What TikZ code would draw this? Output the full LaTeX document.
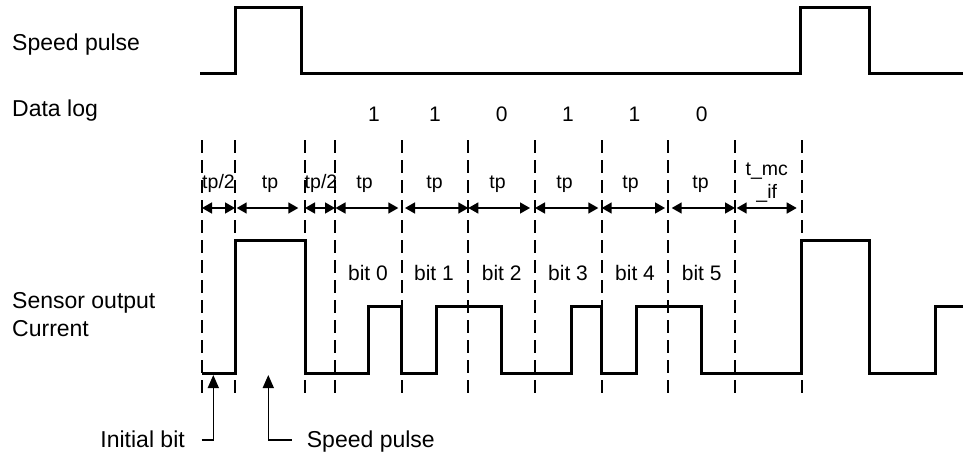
\documentclass[tikz,border=0pt]{standalone}
\usepackage{fontspec}
\setmainfont{Liberation Sans}
\usetikzlibrary{arrows.meta}
\begin{document}
\begin{tikzpicture}[x=1pt,y=-1pt,
  sidelbl/.style={font=\fontsize{23}{28}\selectfont, inner sep=0pt, align=left},
  bitlbl/.style={font=\fontsize{21}{24}\selectfont, inner sep=0pt},
  tplbl/.style={font=\fontsize{19.5}{23}\selectfont, inner sep=0pt, align=center},
  signal/.style={line width=3pt, line join=miter},
  guide/.style={line width=2.3pt, dash pattern=on 13pt off 7pt},
  span/.style={line width=1.5pt, {Triangle[length=10pt,width=11pt]}-{Triangle[length=10pt,width=11pt]}},
  ann/.style={line width=1.5pt, -{Triangle[length=13pt,width=11pt]}}]
\useasboundingbox (0,0) rectangle (963,456);

% left labels
\node[sidelbl, anchor=base west] (lsp) at (12,50) {Speed pulse};
\node[sidelbl, anchor=base west] (ldl) at (12,116) {Data log};
\node[sidelbl, anchor=base west] (lso) at (12,336) {Sensor output\\Current};

% speed pulse signal
\draw[signal] (200,73) -- (235,73) -- (235,7.5) -- (301.7,7.5) -- (301.7,73)
  -- (800.7,73) -- (800.7,7.5) -- (869,7.5) -- (869,73) -- (964,73);

% dashed guide lines
\foreach \n/\x in {a/202,b/235,c/305,d/335,e/401.7,f/468.3,g/535,h/601.7,i/668.3,j/735,k/801.7}{
  \coordinate (t\n) at (\x,140);
  \coordinate (b\n) at (\x,395);
  \draw[guide] (t\n) -- (b\n);
}

% data log digits
\foreach \x/\d in {374/1,435/1,501.7/0,568/1,634.5/1,701.7/0}{
  \node[bitlbl, anchor=base] at (\x,121.7) {\d};
}

% span arrows
\foreach \l/\r in {202/235,236.7/298.3,305/335,335.5/398.3,405/468.3,468.3/530,535/598.3,601.7/665,671.7/735,736.7/796.7}{
  \coordinate (sl) at (\l,208);
  \coordinate (sr) at (\r,208);
  \draw[span] (sl) -- (sr);
}

% tp labels
\node[tplbl, anchor=base] at (218.5,188) {tp/2};
\node[tplbl, anchor=base] at (270,188) {tp};
\node[tplbl, anchor=base] at (321,188) {tp/2};
\node[tplbl, anchor=base] at (364.5,188) {tp};
\node[tplbl, anchor=base] at (434.5,188) {tp};
\node[tplbl, anchor=base] at (497.5,188) {tp};
\node[tplbl, anchor=base] at (564.5,188) {tp};
\node[tplbl, anchor=base] at (630.5,188) {tp};
\node[tplbl, anchor=base] at (700.5,188) {tp};
\node[tplbl, anchor=base] (tmc) at (766.7,198) {t\_mc\\\_if};

% bit labels
\foreach \x/\b in {368/0,434/1,501.7/2,568/3,635/4,701.7/5}{
  \node[bitlbl, anchor=base] at (\x,280) {bit \b};
}

% sensor output signal
\draw[signal] (202,373) -- (235,373) -- (235,240) -- (305,240) -- (305,373)
  -- (368.3,373) -- (368.3,306.7) -- (401.7,306.7) -- (401.7,373)
  -- (436.7,373) -- (436.7,306.7) -- (501.7,306.7) -- (501.7,373)
  -- (571.7,373) -- (571.7,306.7) -- (601.7,306.7) -- (601.7,373)
  -- (636.7,373) -- (636.7,306.7) -- (701.7,306.7) -- (701.7,373)
  -- (801.7,373) -- (801.7,240) -- (869,240) -- (869,373)
  -- (935,373) -- (935,306.7) -- (964,306.7);

% bottom annotations
\node[sidelbl, anchor=base east] (ib) at (185,447) {Initial bit};
\node[sidelbl, anchor=base west] (sp) at (306.7,447) {Speed pulse};
\coordinate (ibt) at (213.3,375);
\coordinate (spt) at (268.3,375);
\coordinate (ibs) at (201.7,440);
\coordinate (sps) at (291.7,440);
\draw[ann] (ibs) -| (ibt);
\draw[ann] (sps) -| (spt);
\end{tikzpicture}
\end{document}
